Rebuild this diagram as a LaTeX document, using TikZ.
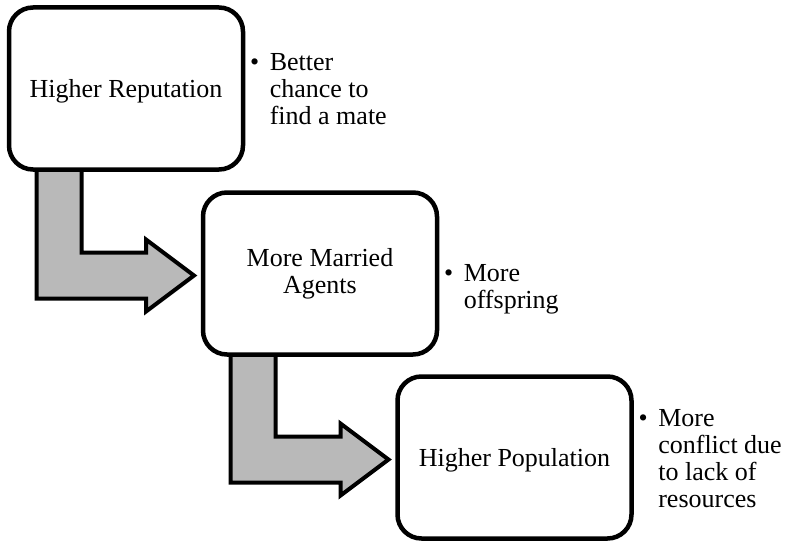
\documentclass[tikz,border=0pt]{standalone}
\usepackage{fontspec}
\setmainfont{Liberation Serif}
\usetikzlibrary{calc,backgrounds}
\definecolor{arrowgray}{RGB}{185,185,185}
\tikzset{
 box/.style={draw=black, line width=4.5pt, rounded corners=24pt, fill=white, minimum width=234pt, minimum height=162pt, align=center, font=\fontsize{26}{27}\selectfont, inner sep=0pt, outer sep=0pt},
 oneline/.style={text height=24pt, text depth=6pt},
 note/.style={anchor=west, inner sep=0pt, font=\fontsize{26}{27}\selectfont},
 bentarrow/.style={draw=black, line width=4pt, fill=arrowgray, line join=miter, miter limit=10},
}
\newcommand{\drawbent}[2]{%
 \draw[bentarrow] let \p1=($(#1.south west)+(27.5,-10)$), \p2=($(#2.west)+(-9,2)$) in
 (\x1,\y1) -- (\x1,{\y2-23}) -- ({\x2-48},{\y2-23}) -- ({\x2-48},{\y2-36}) -- (\x2,\y2)
 -- ({\x2-48},{\y2+36}) -- ({\x2-48},{\y2+23}) -- ({\x1+45},{\y2+23}) -- ({\x1+45},\y1) -- cycle;}
\begin{document}
\begin{tikzpicture}[x=1pt,y=-1pt]
\useasboundingbox (0,0) rectangle (785,543);
\node[box,oneline] (b1) at (126,88.5) {Higher Reputation};
\node[box] (b2) at (320,273.5) {More Married\\Agents};
\node[box,oneline] (b3) at (514.5,457.5) {Higher Population};
\begin{scope}[on background layer]
\drawbent{b1}{b2}
\drawbent{b2}{b3}
\end{scope}
\node[note] (n1) at ($(b1.east)+(7,3.5)$) {\begin{tabular}{@{}l@{\hspace{10.5pt}}l@{}}\textbullet & Better\\ & chance to\\ & find a mate\end{tabular}};
\node[note] (n2) at ($(b2.east)+(7,16)$) {\begin{tabular}{@{}l@{\hspace{10.5pt}}l@{}}\textbullet & More\\ & offspring\end{tabular}};
\node[note] (n3) at ($(b3.east)+(7,4.5)$) {\begin{tabular}{@{}l@{\hspace{10.5pt}}l@{}}\textbullet & More\\ & conflict due\\ & to lack of\\ & resources\end{tabular}};
\end{tikzpicture}
\end{document}
